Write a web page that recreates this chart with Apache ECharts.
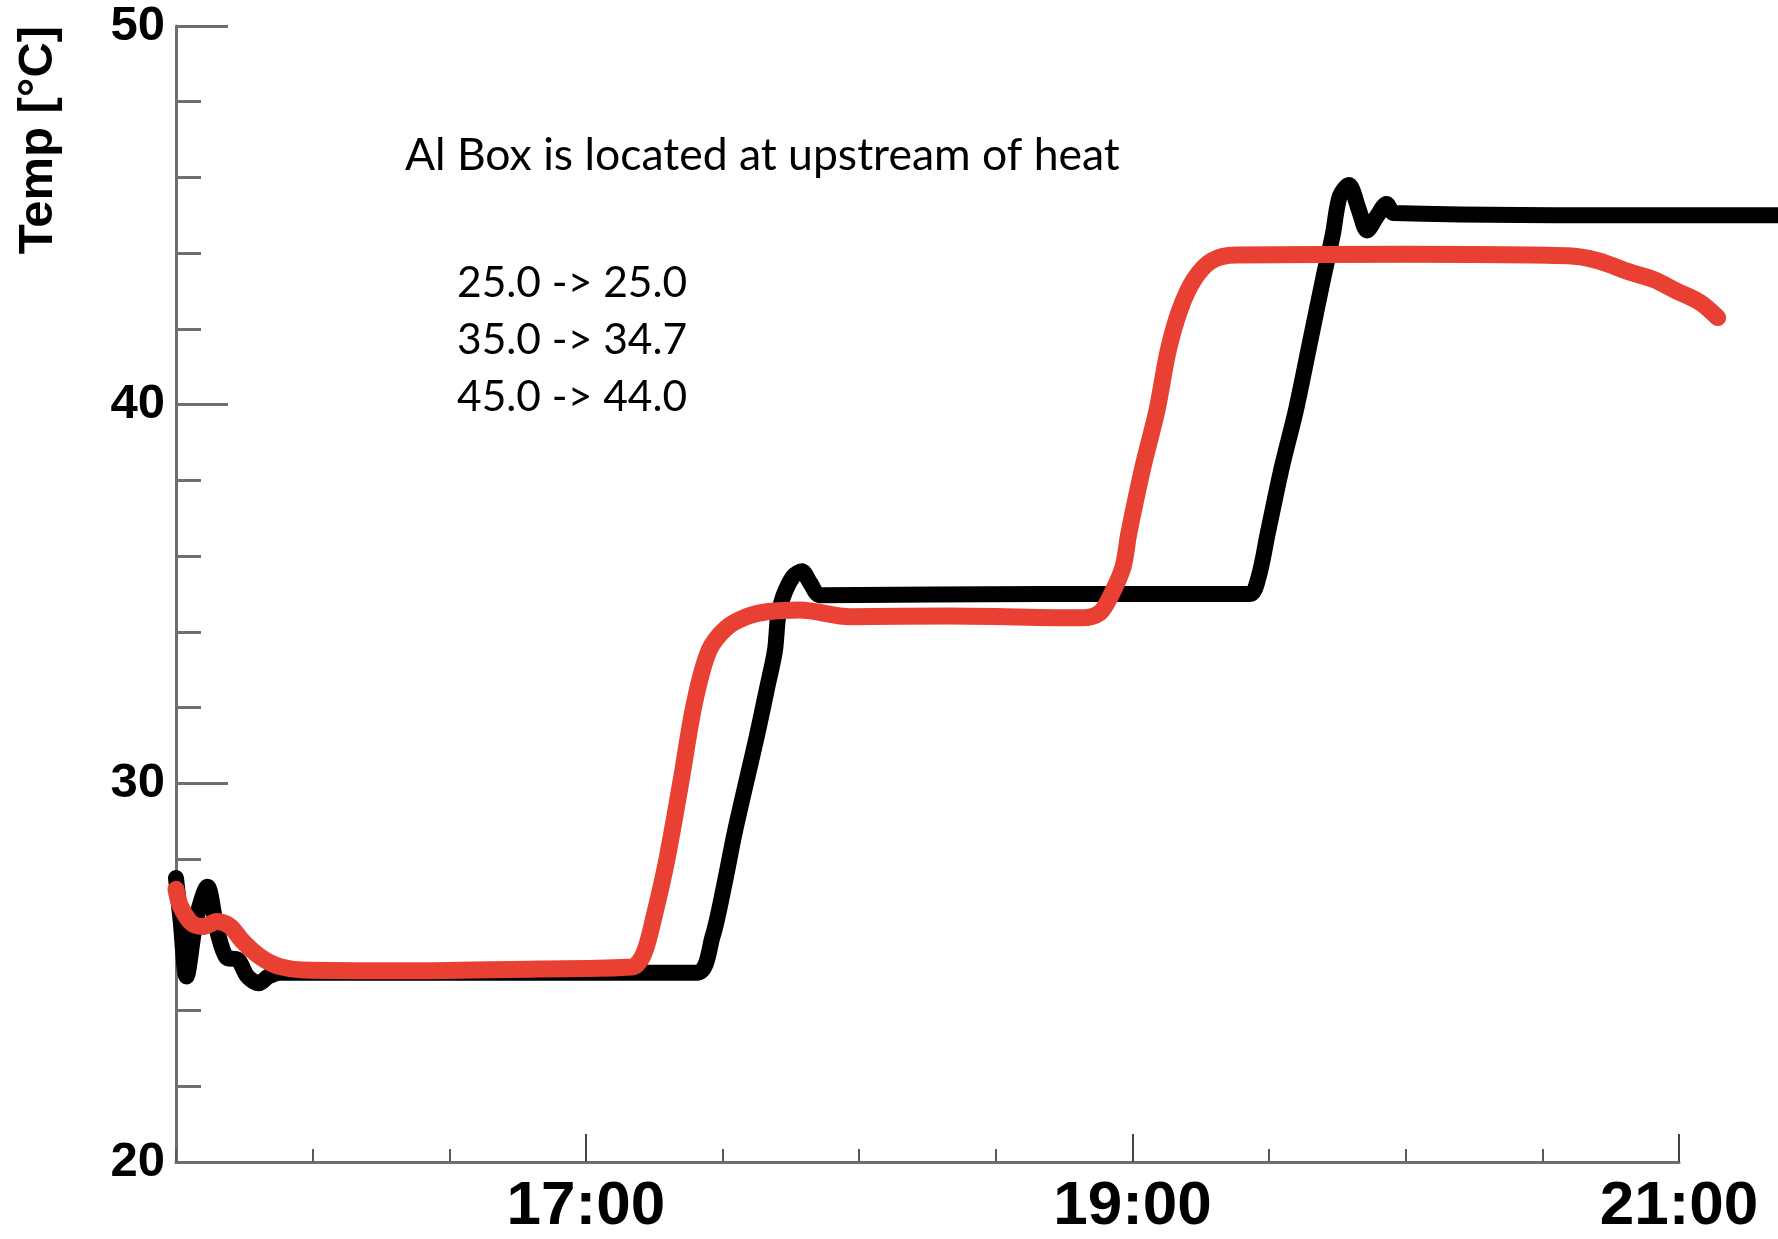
<!DOCTYPE html>
<html>
<head>
<meta charset="utf-8">
<title>Temp</title>
<script src="https://cdn.jsdelivr.net/npm/echarts@6/dist/echarts.min.js"></script>
<style>
  html, body { margin: 0; padding: 0; background: #ffffff; }
  #chart { width: 1778px; height: 1239px; }
</style>
</head>
<body>
<div id="chart"></div>
<script>
// Time is in minutes after midnight, temperature in °C.
const blackTime = [930, 931, 932.3, 934.4, 936.9, 939, 941.1, 943.6, 945.7, 948.2, 950.3, 952.8,
  1000, 1044.4, 1047.8, 1050.3, 1052.8, 1057.5, 1059.7, 1061.5, 1062.2, 1063.3, 1065.5, 1067.4,
  1069.2, 1071.4, 1120, 1165.7, 1167.7, 1169.7, 1172.8, 1175.9, 1178.9, 1182.0, 1184.0, 1185.5,
  1187.5, 1189.7, 1191.5, 1193.6, 1195.8, 1197.4, 1250, 1300];
const blackTemp = [27.5, 26.4, 24.9, 26.4, 27.27, 26.13, 25.4, 25.34, 24.9, 24.72, 24.9, 25.0,
  25.0, 25.0, 25.95, 27.27, 28.77, 31.23, 32.47, 33.5, 34.4, 34.93, 35.46, 35.6,
  35.3, 34.97, 35.0, 35.0, 35.45, 36.6, 38.35, 39.86, 41.6, 43.4, 44.5, 45.5,
  45.8, 45.15, 44.6, 44.96, 45.3, 45.06, 45.0, 45.0];

const redTime = [930, 931, 933.5, 936, 939, 941.9, 944.4, 947, 949.5, 952.8, 957.9, 980,
  1010, 1030.1, 1032.7, 1035, 1037.8, 1040.8, 1043.8, 1047, 1050.8, 1055.3, 1059.7,
  1067, 1078, 1100, 1129.1, 1132.8, 1135, 1137.9, 1139.2, 1142.3, 1145.4, 1147.8, 1150.4,
  1153.5, 1157.4, 1162.7, 1200, 1235.6, 1242.2, 1249.2, 1254.5, 1259.5, 1264.6, 1268.5];
const redTemp = [27.2, 26.75, 26.3, 26.22, 26.35, 26.22, 25.86, 25.56, 25.34, 25.16, 25.07, 25.05,
  25.1, 25.15, 25.5, 26.5, 28.0, 30.0, 32.1, 33.5, 34.1, 34.4, 34.53,
  34.58, 34.4, 34.42, 34.37, 34.5, 34.9, 35.7, 36.6, 38.35, 39.86, 41.4, 42.5,
  43.3, 43.8, 43.95, 43.97, 43.93, 43.8, 43.5, 43.3, 43.0, 42.7, 42.3];

const hourLabels = [1020, 1140, 1260];        // 17:00, 19:00, 21:00
const tempLabels = [20, 30, 40, 50];
const noteTitle = 'Al Box is located at upstream of heat';
const noteLines = ['25.0 -> 25.0', '35.0 -> 34.7', '45.0 -> 44.0'];

const pairs = (xs, ys) => xs.map((x, i) => [x, ys[i]]);
const hhmm = v => {
  const h = Math.floor(v / 60), m = Math.round(v % 60);
  return h + ':' + String(m).padStart(2, '0');
};

// Layout: the framed axes stop at 21:00, the traces run on to the right edge.
const W = 1778, LEFT = 176, RIGHT = 99, TOP = 26, BOTTOM = 77;
const X_MIN = 930, X_MAX = 1260;
const X_MAX_WIDE = X_MIN + (X_MAX - X_MIN) * (W - LEFT) / (W - LEFT - RIGHT);

const AXIS_GREY = '#6f6f6f';
const TICK_FONT = '"Liberation Sans", Arial, Helvetica, sans-serif';
const NOTE_FONT = 'Lato, "Open Sans", sans-serif';

const hidden = { axisLine: { show: false }, axisTick: { show: false },
                 axisLabel: { show: false }, splitLine: { show: false } };

const chart = echarts.init(document.getElementById('chart'), null, { renderer: 'canvas' });

chart.setOption({
  backgroundColor: '#ffffff',
  animation: false,
  grid: [
    { left: LEFT, top: TOP, right: RIGHT, bottom: BOTTOM, containLabel: false },
    { left: LEFT, top: TOP, right: 0, bottom: BOTTOM, containLabel: false }
  ],
  xAxis: [
    {
      type: 'value', gridIndex: 0, min: X_MIN, max: X_MAX, interval: 30,
      axisLine: { show: true, lineStyle: { color: AXIS_GREY, width: 3 } },
      axisTick: { show: true, inside: true, length: 13, lineStyle: { color: '#5a5a5a', width: 2 } },
      axisLabel: {
        show: true, margin: 14, color: '#000', fontSize: 62, fontWeight: 'bold', fontFamily: TICK_FONT,
        showMinLabel: true, showMaxLabel: true,
        formatter: v => hourLabels.includes(v) ? hhmm(v) : ''
      },
      splitLine: { show: false }
    },
    {
      type: 'value', gridIndex: 0, min: X_MIN, max: X_MAX, position: 'bottom',
      axisLine: { show: false },
      axisTick: { show: true, inside: true, length: 28, customValues: hourLabels,
                  lineStyle: { color: '#444', width: 2 } },
      axisLabel: { show: false },
      splitLine: { show: false }
    },
    Object.assign({ type: 'value', gridIndex: 1, min: X_MIN, max: X_MAX_WIDE }, hidden)
  ],
  yAxis: [
    {
      type: 'value', gridIndex: 0, min: 20, max: 50, interval: 2,
      axisLine: { show: true, lineStyle: { color: AXIS_GREY, width: 3 } },
      axisTick: { show: true, inside: true, length: 25, lineStyle: { color: AXIS_GREY, width: 3 } },
      axisLabel: {
        show: true, margin: 11, color: '#000', fontSize: 49, fontWeight: 'bold', fontFamily: TICK_FONT,
        showMinLabel: true, showMaxLabel: true,
        formatter: v => tempLabels.includes(v) ? String(v) : ''
      },
      splitLine: { show: false }
    },
    {
      type: 'value', gridIndex: 0, min: 20, max: 50, position: 'left',
      axisLine: { show: false },
      axisTick: { show: true, inside: true, length: 52, customValues: tempLabels,
                  lineStyle: { color: AXIS_GREY, width: 3 } },
      axisLabel: { show: false },
      splitLine: { show: false }
    },
    Object.assign({ type: 'value', gridIndex: 1, min: 20, max: 50 }, hidden)
  ],
  series: [
    {
      name: 'Al Box', type: 'line', xAxisIndex: 2, yAxisIndex: 2,
      data: pairs(blackTime, blackTemp),
      showSymbol: false, smooth: 0.3, z: 3,
      lineStyle: { color: '#000000', width: 16, cap: 'round', join: 'round' }
    },
    {
      name: 'Heat', type: 'line', xAxisIndex: 2, yAxisIndex: 2,
      data: pairs(redTime, redTemp),
      showSymbol: false, smooth: 0.3, z: 4,
      lineStyle: { color: '#e84033', width: 17, cap: 'round', join: 'round' }
    }
  ],
  graphic: [
    {
      type: 'text', x: 38, y: 140, rotation: Math.PI / 2,
      style: { text: 'Temp [°C]', font: 'bold 49px ' + TICK_FONT, fill: '#000',
               textAlign: 'center', textVerticalAlign: 'middle' }
    },
    {
      type: 'text', x: 405, y: 156,
      style: { text: noteTitle, font: '44.5px ' + NOTE_FONT, fill: '#000',
               textAlign: 'left', textVerticalAlign: 'middle' }
    },
    ...noteLines.map((t, i) => ({
      type: 'text', x: 457, y: 283 + i * 57,
      style: { text: t, font: '42.5px ' + NOTE_FONT, fill: '#000',
               textAlign: 'left', textVerticalAlign: 'middle' }
    }))
  ]
});
</script>
</body>
</html>
